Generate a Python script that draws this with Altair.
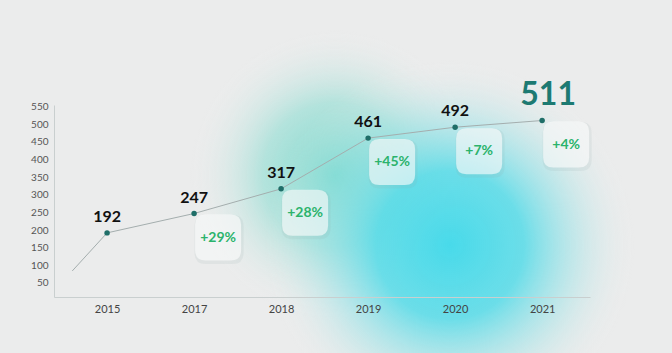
import altair as alt
import pandas as pd

years = ["2015", "2017", "2018", "2019", "2020", "2021"]
values = [192, 247, 317, 461, 492, 511]
growth = ["", "+29%", "+28%", "+45%", "+7%", "+4%"]
lead_in_idx = -0.4
lead_in_value = 84

idx = list(range(len(years)))
df = pd.DataFrame({"idx": idx, "year": years, "value": values, "growth": growth})
line_df = pd.DataFrame({"idx": [lead_in_idx] + idx, "value": [lead_in_value] + values})
label_expr = "{" + ",".join(f"'{i}':'{y}'" for i, y in zip(idx, years)) + "}[datum.value]"

xs = alt.Scale(domain=[-0.61, 5.55], nice=False, zero=False)
ys = alt.Scale(domain=[10, 555], nice=False, zero=False)
X = alt.X("idx:Q", scale=xs, axis=alt.Axis(values=idx, labelExpr=label_expr, title=None, grid=False,
                                            ticks=False, domainColor="#c9cfcf", labelColor="#444",
                                            labelFontSize=11, labelPadding=6, labelFont="Lato", zindex=1))
Y = alt.Y("value:Q", scale=ys, axis=alt.Axis(values=list(range(50, 551, 50)), title=None, grid=False,
                                              ticks=False, domainColor="#c9cfcf", labelColor="#555",
                                              labelFontSize=10, labelPadding=6, labelFont="Lato", zindex=1))

one = pd.DataFrame({"a": [0]})

def blob(cx, cy, r, stops):
    # canvas coords -> view coords (padding left 54, top 105)
    x1, y1 = cx - r - 54, cy - r - 105
    return alt.Chart(one).mark_rect(
        fill=alt.RadialGradient(gradient="radial", stops=[alt.GradientStop(color=c, offset=o) for o, c in stops],
                                x1=0.5, y1=0.5, r1=0, x2=0.5, y2=0.5, r2=0.5),
        clip=False,
    ).encode(x=alt.value(x1), x2=alt.value(x1 + 2 * r), y=alt.value(y1), y2=alt.value(y1 + 2 * r))

blob_green = blob(335, 175, 145, [(0, "rgba(105,214,200,0.85)"), (0.5, "rgba(125,218,205,0.5)"), (1, "rgba(235,236,236,0)")])
blob_cyan = blob(450, 245, 185, [(0, "rgba(72,218,234,1)"), (0.4, "rgba(85,219,232,0.85)"), (0.72, "rgba(150,226,230,0.35)"), (1, "rgba(235,236,236,0)")])

line = alt.Chart(line_df).mark_line(color="#a4aeae", strokeWidth=1).encode(x=X, y=Y)
pts = alt.Chart(df).mark_point(filled=True, color="#1f6e68", size=30, opacity=1).encode(x=X, y=Y)

lbl = alt.Chart(df[df.year != "2021"]).mark_text(
    font="Lato", fontWeight="bold", fontSize=16, color="#111", dy=-16, baseline="middle"
).encode(x=X, y=Y, text="value:Q")
lbl_big = alt.Chart(df[df.year == "2021"]).mark_text(
    font="Lato", fontWeight="bold", fontSize=32, color="#1d7a72", dx=6, dy=-26, baseline="middle"
).encode(x=X, y=Y, text="value:Q")

rr = "M -0.55,-1 L 0.55,-1 Q 1,-1 1,-0.55 L 1,0.55 Q 1,1 0.55,1 L -0.55,1 Q -1,1 -1,0.55 L -1,-0.55 Q -1,-1 -0.55,-1 Z"
gdf = df[df.growth != ""]
shadow = alt.Chart(gdf).mark_point(shape=rr, filled=True, size=2400, color="#8fa3a3", opacity=0.12,
                                   xOffset=25, yOffset=26).encode(x=X, y=Y)
box = alt.Chart(gdf).mark_point(shape=rr, filled=True, size=2116, color="#ffffff", opacity=0.6,
                                xOffset=24, yOffset=24).encode(x=X, y=Y)
gtxt = alt.Chart(gdf).mark_text(font="Lato", fontWeight="bold", fontSize=14, color="#2bb36c",
                                dx=24, dy=24, baseline="middle").encode(x=X, y=Y, text="growth:N")

chart = alt.layer(blob_green, blob_cyan, line, pts, lbl, lbl_big, shadow, box, gtxt).properties(
    width=536, height=192,
    autosize=alt.AutoSizeParams(type="none"),
    padding={"left": 54, "top": 105, "right": 82, "bottom": 56},
    background="#ebecec",
).configure_view(stroke=None)

chart.save("out.html", embed_options={"renderer": "svg", "actions": False})
